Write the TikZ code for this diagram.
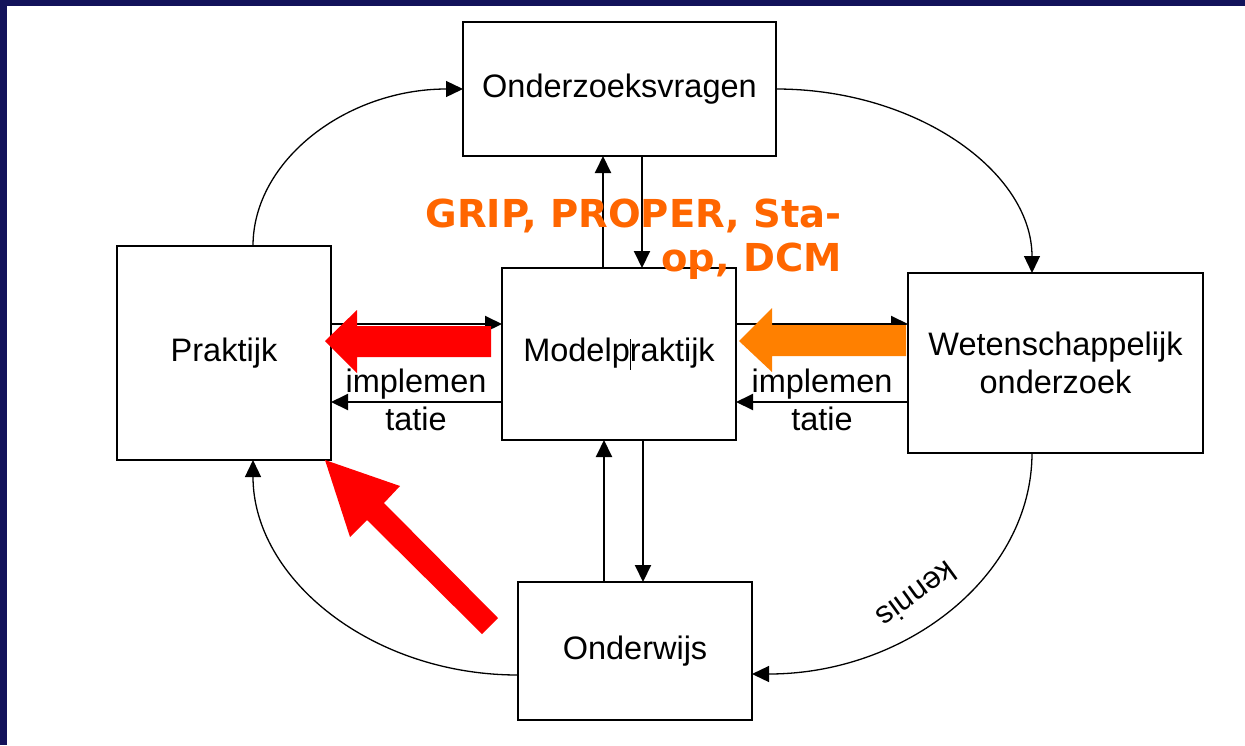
\documentclass[tikz,border=0pt]{standalone}
\usepackage{fontspec}
\setmainfont{Liberation Sans}
\newfontfamily\orangefont{DejaVu Sans}
\usetikzlibrary{arrows.meta}
\definecolor{navy}{RGB}{18,18,90}
\definecolor{blockred}{RGB}{255,0,0}
\definecolor{blockorange}{RGB}{255,128,0}
\definecolor{textorange}{RGB}{255,102,0}
\tikzset{
  box/.style={draw=black, line width=2pt, fill=white, inner sep=0pt, outer sep=0pt,
    font=\fontsize{32.5}{38}\selectfont, align=center},
  arr/.style={line width=2pt, -{Triangle[length=17pt,width=16pt]}},
  curvearr/.style={line width=1.3pt, -{Triangle[length=17pt,width=16pt]}},
  lbl/.style={font=\fontsize{32.5}{38}\selectfont, align=center, inner sep=0pt},
}
\begin{document}
\begin{tikzpicture}[x=1pt, y=-1pt]
\useasboundingbox (0,0) rectangle (1245,745);
\fill[white] (0,0) rectangle (1245,745);
\fill[navy] (0,0) rectangle (1245,6);
\fill[navy] (0,0) rectangle (7,745);

% boxes
\node[box, minimum width=313pt, minimum height=134pt] (vragen) at (619.5,89) {Onderzoeksvragen};
\node[box, minimum width=214pt, minimum height=214pt] (praktijk) at (224,353) {Praktijk};
\node[box, minimum width=234pt, minimum height=172pt] (model) at (619,354) {Modelp\kern0.3pt\rule[-0.25em]{0.6pt}{0.95em}\kern-0.9pt raktijk};
\node[box, minimum width=295pt, minimum height=180pt] (wet) at (1055.5,363) {Wetenschappelijk\\onderzoek};
\node[box, minimum width=234pt, minimum height=138pt] (onderwijs) at (635,651) {Onderwijs};

% vertical arrows
\draw[arr] ([xshift=-16pt]model.north) -- ([xshift=-16pt]model.north |- vragen.south);
\draw[arr] ([xshift=23pt]model.north |- vragen.south) -- ([xshift=23pt]model.north);
\draw[arr] ([xshift=-15pt]model.south |- onderwijs.north) -- ([xshift=-15pt]model.south);
\draw[arr] ([xshift=24pt]model.south) -- ([xshift=24pt]model.south |- onderwijs.north);

% horizontal arrows
\draw[arr] ([yshift=30pt]model.west -| praktijk.east) -- ([yshift=30pt]model.west);
\draw[arr] ([yshift=-48pt]model.west) -- ([yshift=-48pt]model.west -| praktijk.east);
\draw[arr] ([yshift=30pt]model.east) -- ([yshift=30pt]model.east -| wet.west);
\draw[arr] ([yshift=-48pt]model.east -| wet.west) -- ([yshift=-48pt]model.east);

\node[lbl] (impl1) at (416,400) {implemen\\tatie};
\node[lbl] (impl2) at (822,400) {implemen\\tatie};

% curved arrows
\draw[curvearr] ([xshift=29pt]praktijk.north) .. controls +(0,-86) and +(-116,0) .. (vragen.west);
\draw[curvearr] (vragen.east) .. controls +(141,0) and +(0,-101) .. ([xshift=-23.5pt]wet.north);
\draw[curvearr] ([xshift=-23.5pt]wet.south) .. controls +(0,122) and +(155,0) .. ([yshift=-23pt]onderwijs.east);
\draw[curvearr] ([yshift=-24pt]onderwijs.west) .. controls +(-146,0) and +(0,119) .. ([xshift=29pt]praktijk.south);

\node[font=\fontsize{31}{34}\selectfont, rotate=216, inner sep=0pt] (kennis) at (917,595) {kennis};

% orange label
\node[font=\orangefont\bfseries\fontsize{38.5}{44}\selectfont, text=textorange, align=right,
  inner sep=0pt, anchor=north east] (grip) at (842,199) {GRIP, PROPER, Sta-\\op, DCM};

% block arrows
\fill[blockred] (325,341) -- (357,310) -- (357,326) -- (491,326) -- (491,357) -- (357,357) -- (357,373) -- cycle;
\fill[blockorange] (739,341) -- (772,308) -- (772,325) -- (906,325) -- (906,356) -- (772,356) -- (772,372) -- cycle;
\fill[blockred] (325,460) -- (400,486) -- (384,503) -- (498,618) -- (482,634) -- (367,520) -- (350,537) -- cycle;
\end{tikzpicture}
\end{document}
